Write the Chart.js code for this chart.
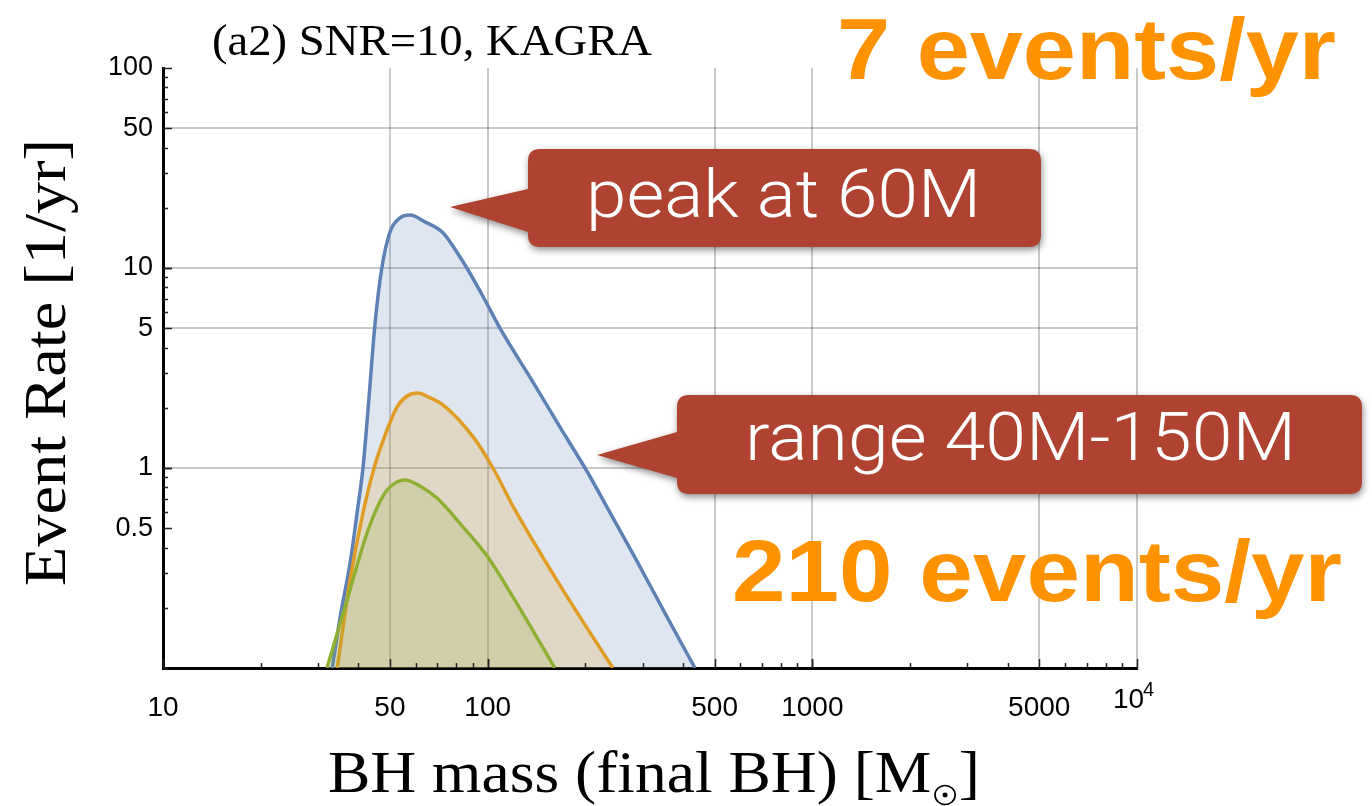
<!DOCTYPE html>
<html>
<head>
<meta charset="utf-8">
<title>Event rate vs final BH mass</title>
<script src="https://cdn.jsdelivr.net/npm/chart.js@4.4.1/dist/chart.umd.min.js"></script>
<style>
  html, body { margin: 0; padding: 0; background: #fff; }
</style>
</head>
<body>
<canvas id="rate" width="1372" height="806"></canvas>
<script>
// final BH mass [Msun] and event rate [1/yr], one pair of arrays per curve
var blueMass = [33.2, 35.3, 37.7, 39.6, 41.3, 42.8, 45.0, 47.2, 50.0, 53.7, 57.7, 64.1, 72.8, 80.4, 86.3, 98.1, 109.1, 137.9, 167.0, 202, 241.4, 288, 351.6, 435];
var blueRate = [0.1, 0.188, 0.335, 0.596, 1.0, 1.95, 5.3, 10, 15.1, 17.8, 18.4, 17.0, 15.0, 12.0, 10, 6.92, 5.0, 2.69, 1.60, 0.966, 0.575, 0.343, 0.188, 0.1];

var orangeMass = [34.4, 37.7, 41.3, 45.0, 49.0, 52.6, 56.5, 61.0, 66.5, 72.8, 90.2, 103.8, 121.4, 170.6, 243];
var orangeRate = [0.1, 0.275, 0.596, 1.04, 1.55, 2.02, 2.29, 2.37, 2.24, 2.07, 1.43, 1.0, 0.617, 0.245, 0.1];

var greenMass = [32.0, 36.9, 42.5, 45.9, 49.0, 52.6, 55.6, 62.0, 69.8, 83.9, 100, 119.7, 161];
var greenRate = [0.1, 0.219, 0.473, 0.646, 0.776, 0.851, 0.87, 0.81, 0.708, 0.508, 0.36, 0.226, 0.1];

// labelled ticks and which of them get a grid line
var massTicks = [10, 50, 100, 500, 1000, 5000, 10000];
var rateTicks = [0.5, 1, 5, 10, 50, 100];
var massGrid = [50, 100, 500, 1000, 5000, 10000];
var rateGrid = [1, 5, 10, 50];

function toPoints(xs, ys) {
  return xs.map(function (x, i) { return { x: x, y: ys[i] }; });
}

// stretch a string horizontally so it spans a given length
function fitText(ctx, str, len, font, color) {
  ctx.font = font;
  ctx.fillStyle = color;
  ctx.textAlign = 'left';
  ctx.textBaseline = 'alphabetic';
  var w = ctx.measureText(str).width;
  ctx.scale(len / w, 1);
  ctx.fillText(str, 0, 0);
}

function callout(ctx, box, tip, base, label, textBox) {
  var r = 12;
  ctx.save();
  ctx.beginPath();
  ctx.moveTo(box.l + r, box.t);
  ctx.lineTo(box.r - r, box.t);
  ctx.quadraticCurveTo(box.r, box.t, box.r, box.t + r);
  ctx.lineTo(box.r, box.b - r);
  ctx.quadraticCurveTo(box.r, box.b, box.r - r, box.b);
  ctx.lineTo(box.l + r, box.b);
  ctx.quadraticCurveTo(box.l, box.b, box.l, box.b - r);
  ctx.lineTo(box.l, base[1]);
  ctx.lineTo(tip[0], tip[1]);
  ctx.lineTo(box.l, base[0]);
  ctx.lineTo(box.l, box.t + r);
  ctx.quadraticCurveTo(box.l, box.t, box.l + r, box.t);
  ctx.closePath();
  ctx.shadowColor = 'rgba(0,0,0,0.45)';
  ctx.shadowBlur = 7;
  ctx.shadowOffsetX = 1;
  ctx.shadowOffsetY = 3;
  ctx.fillStyle = '#AF4231';
  ctx.fill();
  ctx.restore();

  ctx.save();
  ctx.translate(textBox.l, textBox.base);
  fitText(ctx, label, textBox.r - textBox.l, '300 66px Roboto, Lato, "Open Sans", sans-serif', '#fff');
  ctx.restore();
}

var overlay = {
  id: 'overlay',
  afterDraw: function (chart) {
    var ctx = chart.ctx;
    var xs = chart.scales.x, ys = chart.scales.y;
    var area = chart.chartArea;

    // inward tick marks, long at labelled values
    ctx.save();
    ctx.strokeStyle = '#222';
    ctx.lineWidth = 1.5;
    [0.1, 1, 10].forEach(function (d) {
      for (var k = 1; k <= 10; k++) {
        var v = +(k * d).toPrecision(3);
        var len = rateTicks.indexOf(v) >= 0 ? 9 : 5;
        var py = Math.round(ys.getPixelForValue(v)) + 0.5;
        ctx.beginPath();
        ctx.moveTo(area.left, py);
        ctx.lineTo(area.left + len, py);
        ctx.stroke();
      }
    });
    [10, 100, 1000].forEach(function (d) {
      for (var k = 1; k <= 10; k++) {
        var v = k * d;
        var len = massTicks.indexOf(v) >= 0 ? 9 : 5;
        var px = Math.round(xs.getPixelForValue(v)) + 0.5;
        ctx.beginPath();
        ctx.moveTo(px, area.bottom);
        ctx.lineTo(px, area.bottom - len);
        ctx.stroke();
      }
    });
    ctx.restore();

    // last x label written as a power of ten
    ctx.save();
    var px4 = xs.getPixelForValue(10000);
    ctx.fillStyle = '#000';
    ctx.textBaseline = 'alphabetic';
    ctx.textAlign = 'left';
    ctx.font = '28px "Liberation Sans", Arial, sans-serif';
    ctx.fillText('10', px4 - 24, 708);
    ctx.font = '20px "Liberation Sans", Arial, sans-serif';
    ctx.fillText('4', px4 + 6, 696);
    ctx.restore();

    // panel title
    ctx.save();
    ctx.translate(212, 55);
    fitText(ctx, '(a2) SNR=10, KAGRA', 440, '45px "Liberation Serif", "Times New Roman", serif', '#000');
    ctx.restore();

    // y axis title
    ctx.save();
    ctx.translate(65, 586);
    ctx.rotate(-Math.PI / 2);
    fitText(ctx, 'Event Rate [1/yr]', 447, '60px "Liberation Serif", "Times New Roman", serif', '#000');
    ctx.restore();

    // x axis title with the solar-mass subscript
    ctx.save();
    ctx.font = '60px "Liberation Serif", "Times New Roman", serif';
    var head = 'BH mass (final BH) [M';
    var wHead = ctx.measureText(head).width;
    var wSub = 26;
    var wTail = ctx.measureText(']').width;
    ctx.translate(328, 792);
    ctx.scale(652 / (wHead + wSub + wTail), 1);
    ctx.fillStyle = '#000';
    ctx.textBaseline = 'alphabetic';
    ctx.fillText(head, 0, 0);
    ctx.strokeStyle = '#000';
    ctx.lineWidth = 1.6;
    ctx.beginPath();
    ctx.arc(wHead + 13, 3, 9.5, 0, Math.PI * 2);
    ctx.stroke();
    ctx.beginPath();
    ctx.arc(wHead + 13, 3, 2.4, 0, Math.PI * 2);
    ctx.fill();
    ctx.fillText(']', wHead + wSub, 0);
    ctx.restore();

    // callouts
    callout(ctx, { l: 528, t: 149, r: 1041, b: 247 }, [450, 207], [189, 232],
      'peak at 60M', { l: 586, r: 981, base: 217 });
    callout(ctx, { l: 677, t: 395, r: 1362, b: 494 }, [597, 455], [432, 478],
      'range 40M-150M', { l: 745, r: 1296, base: 460 });

    // totals
    ctx.save();
    ctx.translate(837, 79);
    fitText(ctx, '7 events/yr', 499, 'bold 88px "Liberation Sans", Arial, sans-serif', '#FF9200');
    ctx.restore();
    ctx.save();
    ctx.translate(732, 601);
    fitText(ctx, '210 events/yr', 610, 'bold 88px "Liberation Sans", Arial, sans-serif', '#FF9200');
    ctx.restore();
  }
};

var gridGray = 'rgba(0,0,0,0.21)';
var tickFamily = '"Liberation Sans", Arial, sans-serif';

new Chart(document.getElementById('rate'), {
  type: 'line',
  data: {
    datasets: [{
      data: toPoints(greenMass, greenRate),
      borderColor: '#8FB032',
      backgroundColor: 'rgba(143,176,50,0.2)',
      order: 1
    }, {
      data: toPoints(orangeMass, orangeRate),
      borderColor: '#E19C24',
      backgroundColor: 'rgba(225,156,36,0.2)',
      order: 2
    }, {
      data: toPoints(blueMass, blueRate),
      borderColor: '#5E81B5',
      backgroundColor: 'rgba(94,129,181,0.2)',
      order: 3
    }]
  },
  options: {
    responsive: false,
    animation: false,
    events: [],
    layout: { padding: { top: 68, right: 235, left: 0, bottom: 0 } },
    elements: {
      line: { borderWidth: 3.5, fill: 'start', cubicInterpolationMode: 'monotone' },
      point: { radius: 0 }
    },
    plugins: {
      legend: { display: false },
      tooltip: { enabled: false }
    },
    scales: {
      x: {
        type: 'logarithmic',
        min: 10,
        max: 10000,
        afterBuildTicks: function (s) { s.ticks = massTicks.map(function (v) { return { value: v }; }); },
        afterFit: function (s) { s.height = 138; },
        grid: {
          drawTicks: false,
          lineWidth: 2,
          color: function (c) { return c.tick && massGrid.indexOf(c.tick.value) >= 0 ? gridGray : 'rgba(0,0,0,0)'; }
        },
        border: { display: true, color: '#000', width: 3 },
        ticks: {
          autoSkip: false,
          maxRotation: 0,
          padding: 23,
          color: '#000',
          font: { family: tickFamily, size: 28 },
          callback: function (v) { return v === 10000 ? '' : String(v); }
        }
      },
      y: {
        type: 'logarithmic',
        min: 0.1,
        max: 100,
        afterBuildTicks: function (s) { s.ticks = rateTicks.map(function (v) { return { value: v }; }); },
        afterFit: function (s) { s.width = 163; },
        grid: {
          drawTicks: false,
          lineWidth: 2,
          color: function (c) { return c.tick && rateGrid.indexOf(c.tick.value) >= 0 ? gridGray : 'rgba(0,0,0,0)'; }
        },
        border: { display: true, color: '#000', width: 3 },
        ticks: {
          autoSkip: false,
          padding: 10,
          color: '#000',
          font: { family: tickFamily, size: 27 },
          callback: function (v) { return String(v); }
        }
      }
    }
  },
  plugins: [overlay]
});
</script>
</body>
</html>
